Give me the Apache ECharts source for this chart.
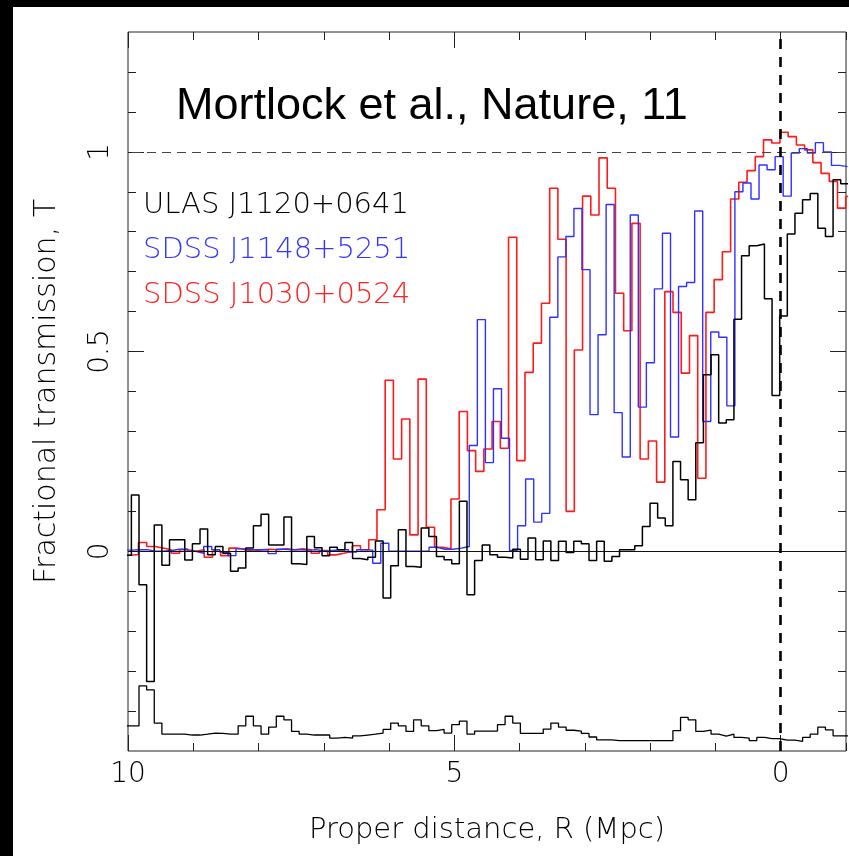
<!DOCTYPE html>
<html><head><meta charset="utf-8">
<script src="https://cdn.jsdelivr.net/npm/echarts@6/dist/echarts.min.js"></script>
<style>
html,body{margin:0;padding:0;background:#fff;}
#chart{position:absolute;left:0;top:0;width:849px;height:856px;}
.bar{position:absolute;background:#000;}
</style></head>
<body>
<div id="chart"></div>
<div class="bar" style="left:0;top:0;width:849px;height:7px"></div>
<div class="bar" style="left:0;top:0;width:13px;height:856px"></div>
<script>
// ---- data ----
const titleText = 'Mortlock et al., Nature, 11';
const seriesNames = ['ULAS J1120+0641', 'SDSS J1148+5251', 'SDSS J1030+0524'];
const xMajorTicks = [0, 5, 10];
const xMinorTicks = [-1, 1, 2, 3, 4, 6, 7, 8, 9];
const yMajorTicks = [0, 0.5, 1];
const yMinorTicks = [-0.4, -0.3, -0.2, -0.1, 0.1, 0.2, 0.3, 0.4, 0.6, 0.7, 0.8, 0.9, 1.1, 1.2];

// SDSS J1030+0524 (red): bins start at redStart (Mpc), width redBin
const redStart = 10.092, redBin = 0.126;
const red = [-0.01, -0.008, 0.022, 0.012, 0.008, 0.004, -0.005, 0.004, 0.0, 0.004,
  -0.015, 0.0, -0.011, 0.008, 0.004, 0.0, 0.004, 0.005, 0.004, 0.006,
  0.004, 0.006, 0.004, -0.005, 0.002, -0.009, -0.005, 0.0, 0.014, 0.004,
  0.029, 0.104, 0.428, 0.231, 0.331, 0.041, 0.431, 0.06, 0.01, 0.006,
  0.131, 0.35, 0.252, 0.2, 0.256, 0.325, 0.258, 0.786, 0.227, 0.448,
  0.521, 0.621, 0.909, 0.781, 0.1, 0.504, 0.889, 0.842, 0.985, 0.909,
  0.646, 0.552, 0.821, 0.231, 0.276, 0.173, 0.65, 0.598, 0.446, 0.54,
  0.183, 0.598, 0.68, 0.75, 0.882, 0.924, 0.953, 0.988, 1.03, 1.022,
  1.049, 1.038, 1.017, 1.005, 0.973, 0.946, 0.926, 0.859, 0.888];

// SDSS J1148+5251 (blue)
const blueStart = 10.073, blueBin = 0.1233;
const blue = [0.003, 0.004, 0.004, 0.0, 0.0, 0.002, 0.005, 0.006, 0.0, -0.005,
  0.012, 0.004, -0.002, -0.011, 0.006, 0.004, 0.004, 0.004, -0.006, 0.005,
  0.004, 0.004, 0.003, 0.004, 0.0, 0.002, 0.004, 0.004, -0.002, 0.004,
  0.003, -0.03, 0.02, 0.0, 0.0, 0.0, 0.0, 0.0, 0.01, 0.005,
  0.005, 0.008, 0.012, 0.265, 0.58, 0.222, 0.407, 0.283, 0.002, 0.064,
  0.181, 0.073, 0.095, 0.586, 0.737, 0.788, 0.858, 0.705, 0.342, 0.542,
  0.868, 0.347, 0.236, 0.842, 0.361, 0.472, 0.657, 0.796, 0.286, 0.663,
  0.673, 0.852, 0.325, 0.549, 0.536, 0.364, 0.9, 0.922, 0.882, 0.967,
  0.955, 0.988, 0.889, 0.997, 1.008, 0.997, 1.023, 1.0, 0.966, 0.963];

// ULAS J1120+0641 (black) and its noise curve (plotted offset at the bottom)
const blackStart = 10.065, blackBin = 0.11685;
const black = [-0.01, 0.141, -0.084, -0.326, 0.066, -0.035, 0.029, 0.029, -0.022, 0.019,
  0.056, -0.009, 0.012, -0.005, -0.05, -0.042, 0.008, 0.064, 0.093, 0.016,
  0.016, 0.086, -0.031, -0.033, 0.037, 0.009, -0.011, 0.01, 0.004, 0.022,
  -0.018, -0.021, -0.015, 0.026, -0.117, -0.036, 0.054, -0.038, -0.04, 0.058,
  0.037, -0.013, -0.021, -0.031, 0.125, -0.109, -0.023, 0.016, -0.009, -0.015,
  -0.017, 0.005, -0.02, 0.033, -0.021, 0.026, -0.023, 0.025, -0.003, 0.025,
  0.019, -0.023, 0.025, -0.025, -0.013, 0.004, 0.004, 0.014, 0.062, 0.12,
  0.083, 0.064, 0.225, 0.179, 0.129, 0.272, 0.442, 0.492, 0.321, 0.329,
  0.581, 0.74, 0.765, 0.769, 0.632, 0.39, 0.589, 0.794, 0.846, 0.88,
  0.896, 0.809, 0.788, 0.93, 0.92];
const noise = [-0.437, -0.437, -0.337, -0.347, -0.43, -0.458, -0.458, -0.458, -0.46, -0.46,
  -0.458, -0.455, -0.456, -0.458, -0.458, -0.437, -0.413, -0.437, -0.458, -0.44,
  -0.413, -0.422, -0.451, -0.458, -0.46, -0.46, -0.46, -0.468, -0.466, -0.468,
  -0.462, -0.46, -0.458, -0.455, -0.446, -0.43, -0.437, -0.451, -0.422, -0.437,
  -0.449, -0.446, -0.455, -0.434, -0.425, -0.458, -0.45, -0.45, -0.45, -0.434,
  -0.413, -0.43, -0.456, -0.456, -0.456, -0.445, -0.43, -0.44, -0.448, -0.45,
  -0.456, -0.465, -0.472, -0.472, -0.474, -0.474, -0.474, -0.474, -0.474, -0.474,
  -0.474, -0.474, -0.449, -0.416, -0.422, -0.451, -0.448, -0.458, -0.463, -0.458,
  -0.466, -0.468, -0.474, -0.466, -0.469, -0.469, -0.473, -0.473, -0.476, -0.466,
  -0.458, -0.44, -0.447, -0.462, -0.462];

// ---- helpers ----
function toSteps(start, bin, vals) {
  const pts = vals.map((v, i) => [start - i * bin, v]);
  pts.push([start - vals.length * bin, vals[vals.length - 1]]);
  return pts;
}

const FONT = 'DejaVu Sans';
const FW = 200;
const TXT = '#000';
const RED = '#ff1a1a', BLUE = '#3030ff', BLK = '#000';

function xAxisDef(pos, ticks, len, labels, withName) {
  return {
    type: 'value', gridIndex: 0, position: pos, min: -1, max: 10, inverse: true,
    axisLine: { show: false, onZero: false },
    splitLine: { show: false },
    axisTick: { show: true, inside: true, length: len, customValues: ticks, lineStyle: { color: '#222', width: 1 } },
    axisLabel: labels ? { show: true, customValues: labels, fontFamily: FONT, fontWeight: FW, fontSize: 28, color: TXT, margin: 10 } : { show: false },
    name: withName ? 'Proper distance, R (Mpc)' : '',
    nameLocation: 'middle', nameGap: 65,
    nameTextStyle: { fontFamily: FONT, fontWeight: FW, fontSize: 29, color: TXT }
  };
}
function yAxisDef(pos, ticks, len, labels, withName) {
  return {
    type: 'value', gridIndex: 0, position: pos, min: -0.5, max: 1.3,
    axisLine: { show: false, onZero: false },
    splitLine: { show: false },
    axisTick: { show: true, inside: true, length: len, customValues: ticks, lineStyle: { color: '#222', width: 1 } },
    axisLabel: labels ? { show: true, customValues: labels, rotate: 90, fontFamily: FONT, fontWeight: FW, fontSize: 28, color: TXT, margin: 13 } : { show: false },
    name: withName ? 'Fractional transmission, T' : '',
    nameLocation: 'middle', nameGap: 66,
    nameTextStyle: { fontFamily: FONT, fontWeight: FW, fontSize: 30, color: TXT }
  };
}

const lineBase = { type: 'line', xAxisIndex: 0, yAxisIndex: 0, step: 'end', showSymbol: false, symbol: 'none', clip: true, animation: false, silent: true };

const option = {
  animation: false,
  backgroundColor: '#fff',
  title: {
    text: titleText, left: 171, top: 79,
    textStyle: { fontFamily: 'Liberation Sans', fontSize: 45, fontWeight: 'normal', color: '#000' }
  },
  legend: {
    orient: 'vertical', left: 133, top: 186, itemGap: 16, icon: 'none', itemWidth: 0, itemHeight: 10,
    selectedMode: false,
    textStyle: { fontFamily: FONT, fontWeight: FW, fontSize: 29 },
    data: [
      { name: seriesNames[0], textStyle: { color: '#000' } },
      { name: seriesNames[1], textStyle: { color: '#3535ff' } },
      { name: seriesNames[2], textStyle: { color: '#ff2020' } }
    ]
  },
  grid: { left: 128, top: 32, width: 718, height: 719, show: true, borderColor: '#222', borderWidth: 1, backgroundColor: 'transparent' },
  xAxis: [
    xAxisDef('bottom', xMajorTicks, 16, xMajorTicks, true),
    xAxisDef('bottom', xMinorTicks, 8, null, false),
    xAxisDef('top', xMajorTicks, 16, null, false),
    xAxisDef('top', xMinorTicks, 8, null, false)
  ],
  yAxis: [
    yAxisDef('left', yMajorTicks, 16, yMajorTicks, true),
    yAxisDef('left', yMinorTicks, 8, null, false),
    yAxisDef('right', yMajorTicks, 16, null, false),
    yAxisDef('right', yMinorTicks, 8, null, false)
  ],
  series: [
    Object.assign({}, lineBase, { name: seriesNames[2], data: toSteps(redStart, redBin, red), lineStyle: { color: RED, width: 1.6 }, itemStyle: { color: RED }, z: 2 }),
    Object.assign({}, lineBase, { name: seriesNames[1], data: toSteps(blueStart, blueBin, blue), lineStyle: { color: BLUE, width: 1.4 }, itemStyle: { color: BLUE }, z: 3 }),
    Object.assign({}, lineBase, { name: seriesNames[0], data: toSteps(blackStart, blackBin, black), lineStyle: { color: BLK, width: 1.5 }, itemStyle: { color: BLK }, z: 4,
      markLine: {
        silent: true, symbol: ['none', 'none'], label: { show: false }, animation: false,
        data: [
          { yAxis: 1, lineStyle: { type: [9, 6], color: '#444', width: 1.2 } },
          { yAxis: 0, lineStyle: { type: 'solid', color: '#111', width: 1 } },
          { xAxis: 0, lineStyle: { type: [10, 8], color: '#000', width: 2.6 } }
        ]
      }
    }),
    Object.assign({}, lineBase, { name: 'noise', data: toSteps(blackStart, blackBin, noise), lineStyle: { color: BLK, width: 1.3 }, itemStyle: { color: BLK }, z: 4 })
  ]
};

const chart = echarts.init(document.getElementById('chart'), null, { renderer: 'canvas' });
chart.setOption(option);
</script>
</body></html>
